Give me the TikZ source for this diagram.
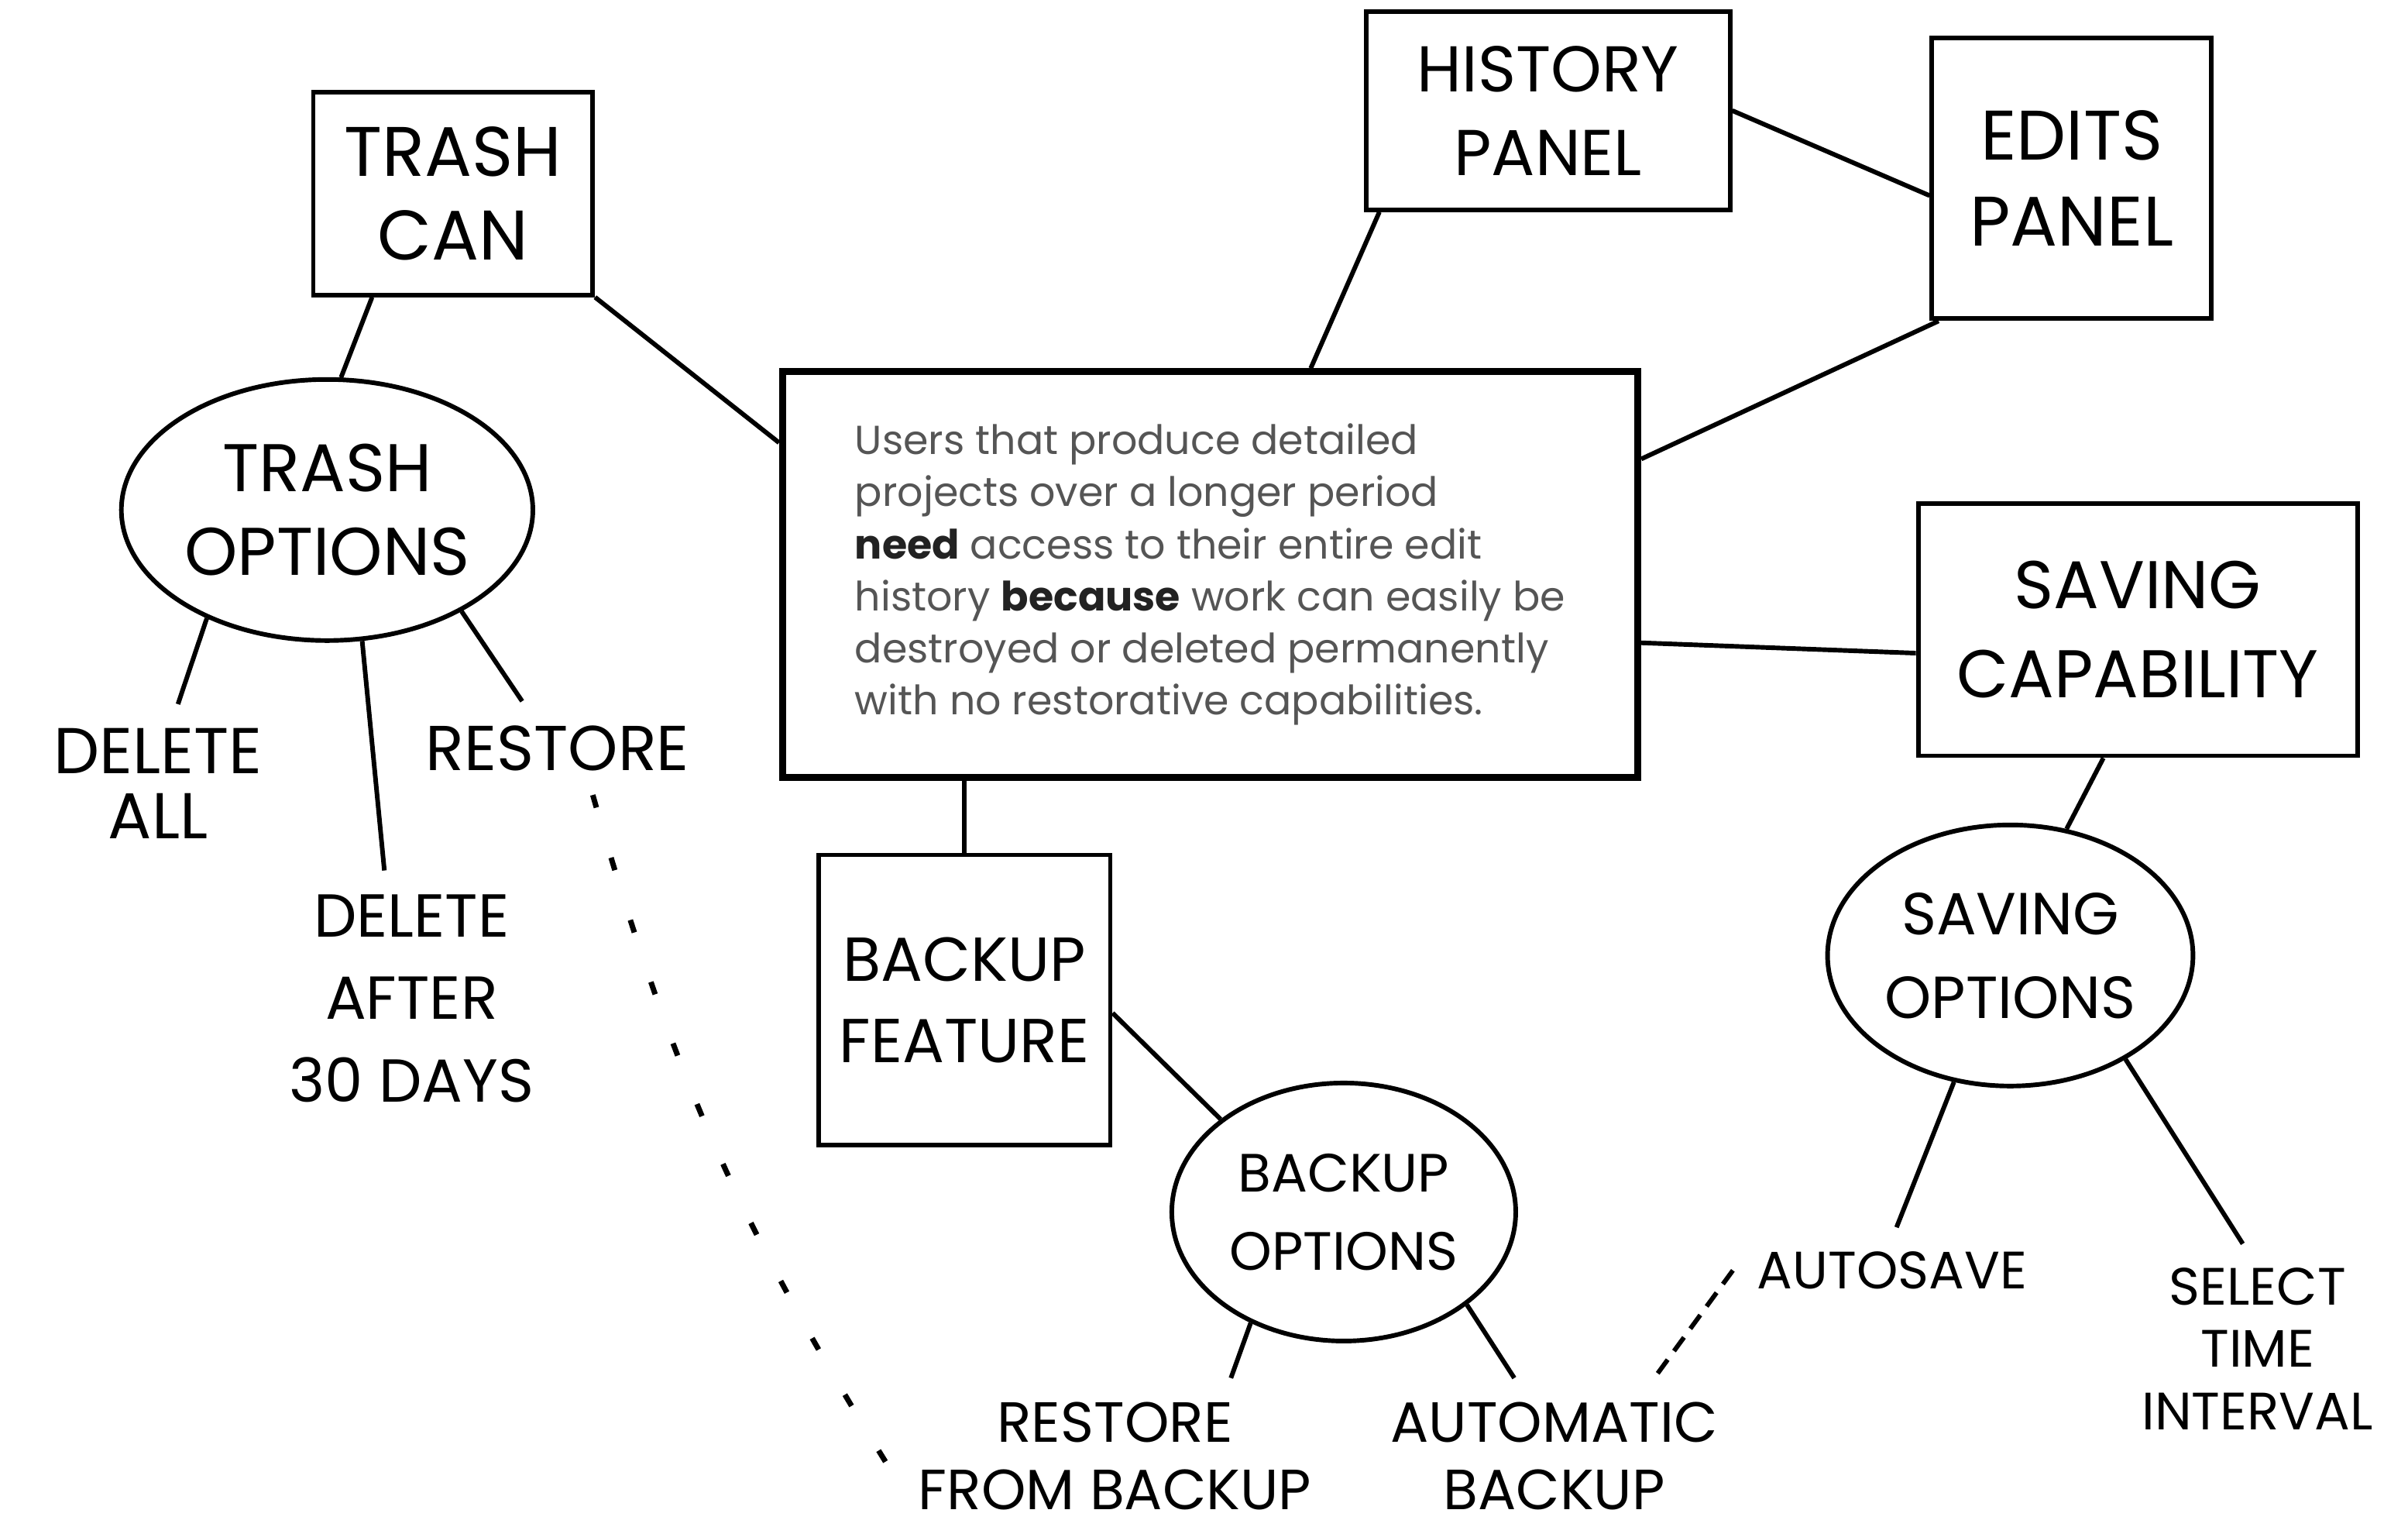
\documentclass[tikz,border=0pt]{standalone}
\usepackage{fontspec}
\setmainfont{Poppins}
\usetikzlibrary{shapes.geometric, positioning}
\definecolor{bodygray}{HTML}{555555}
\definecolor{bodydark}{HTML}{222222}
\newcommand{\hand}[2]{\fontsize{#1}{#2}\selectfont}

\begin{document}
\begin{tikzpicture}[x=0.02cm, y=-0.02cm,
  box/.style={draw, line width=1.7pt, align=center, font=\hand{22}{30}},
  opt/.style={draw, ellipse, line width=1.7pt, align=center, font=\hand{22}{30}, inner sep=0pt},
  leaf/.style={align=center, font=\hand{22}{30}, inner sep=1pt, outer sep=8pt},
  every edge/.style={draw, line width=1.7pt}]
\useasboundingbox (0,0) rectangle (1568,994);

\node[draw, line width=2.6pt, minimum width=11.14cm, minimum height=5.28cm, inner xsep=0.86cm, align=left, font=\hand{15}{19.3}, text=bodygray](Core) at (788,374) {Users that produce detailed\\ projects over a longer period\\ \textbf{\color{bodydark}need} access to their entire edit\\ history \textbf{\color{bodydark}because} work can easily be\\ destroyed or deleted permanently\\ with no restorative capabilities.};

\node[box, minimum width=3.64cm, minimum height=2.64cm, font=\hand{26}{31}](TCan) at (295,126) {TRASH\\CAN};
\node[opt, minimum width=5.36cm, minimum height=3.4cm, font=\hand{25}{31}](TOpt) at (213,332) {TRASH\\OPTIONS};
\node[leaf, font=\hand{24}{24}](DAll) at (103,510) {DELETE\\ALL};
\node[leaf, font=\hand{22.5}{30.5}](DAft) at (268,650) {DELETE\\AFTER\\30 DAYS};
\node[leaf, font=\hand{23.5}{30}](Rest) at (363,487) {RESTORE};

\node[box, minimum width=4.74cm, minimum height=2.58cm, font=\hand{24}{31}](Hist) at (1008,72) {HISTORY\\PANEL};
\node[box, minimum width=3.64cm, minimum height=3.66cm, font=\hand{26}{32}](Edit) at (1349,116) {EDITS\\PANEL};

\node[box, minimum width=5.72cm, minimum height=3.28cm, font=\hand{25}{33}](SCap) at (1392,410) {SAVING\\CAPABILITY};
\node[opt, minimum width=4.76cm, minimum height=3.4cm, font=\hand{22}{31}](SOpt) at (1309,622) {SAVING\\OPTIONS};
\node[leaf, font=\hand{19.5}{30}](Auto) at (1232,827) {AUTOSAVE};
\node[leaf, font=\hand{19.5}{23}](STime) at (1470,878) {SELECT\\TIME\\INTERVAL};

\node[box, minimum width=3.8cm, minimum height=3.78cm, font=\hand{23}{30}](BFeat) at (628,651) {BACKUP\\FEATURE};
\node[opt, minimum width=4.48cm, minimum height=3.36cm, font=\hand{20}{29}](BOpt) at (875,789) {BACKUP\\OPTIONS};
\node[leaf, font=\hand{21}{25}](RFB) at (726,948) {RESTORE\\FROM BACKUP};
\node[leaf, font=\hand{21}{25}](ABk) at (1012,948) {AUTOMATIC\\BACKUP};

\path(TCan.232)edge(TOpt.84);
\path(TCan.south east)edge(Core.163);
\path(TOpt.222)edge(DAll.76);
\path(TOpt.285)edge(DAft.102);
\path(TOpt.323)edge(Rest.127);
\path(Rest.307)edge[line width=2pt, dash pattern=on 0.17cm off 0.68cm, bend right=8](RFB.185);
\path(Hist.211)edge(Core.64);
\path(Hist.0)edge(Edit.187);
\path(Core.15)edge(Edit.227);
\path(Core.351)edge(SCap.186);
\path(SCap.255)edge(SOpt.66);
\path(SOpt.246)edge(Auto.84);
\path(SOpt.318)edge(STime.98);
\path(Auto.west)edge[dash pattern=on 0.22cm off 0.14cm](ABk.38);
\path(BFeat.north)edge(BFeat.north |- Core.south);
\path(BFeat.355)edge(BOpt.143);
\path(BOpt.230)edge(RFB.34);
\path(BOpt.323)edge(ABk.117);
\end{tikzpicture}
\end{document}
